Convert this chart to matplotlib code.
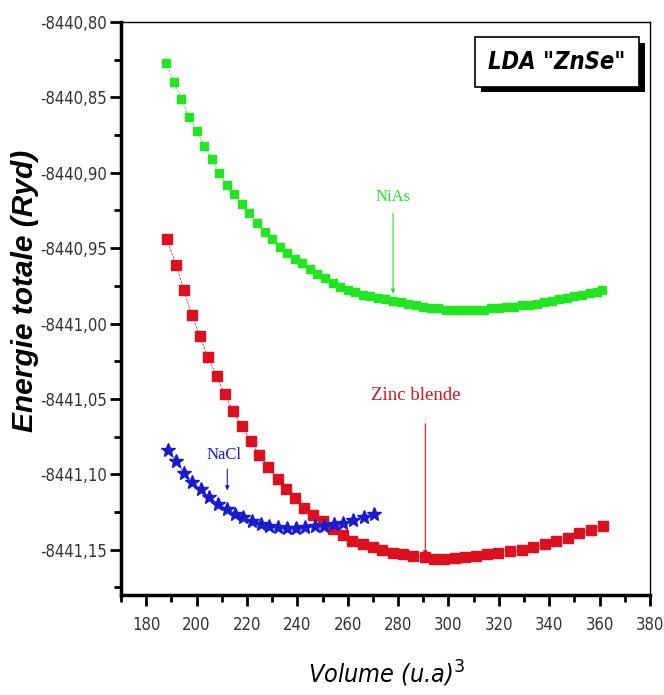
import matplotlib.pyplot as plt
from matplotlib import font_manager
from matplotlib.patches import Rectangle
from matplotlib.ticker import MultipleLocator

# police etroite si dispo
narrow = {'family': 'Liberation Sans'}
for f in font_manager.fontManager.ttflist:
    if 'Narrow' in f.name and 'Liberation' in f.name:
        narrow = {'family': f.name}
        break
else:
    for f in font_manager.fontManager.ttflist:
        if f.name in ('DejaVu Sans', 'Roboto', 'Open Sans', 'Noto Sans') and f.stretch in ('condensed', 'semi-condensed'):
            narrow = {'family': f.name, 'stretch': f.stretch}
            break

# NiAs (vert)
vol_nias = [188, 191, 194, 197, 200, 203, 206, 209, 212, 215, 218, 221, 224, 227, 230,
            233, 236, 239, 242, 245, 248, 251, 254, 257, 260, 263, 266, 269, 272, 275,
            278, 281, 284, 287, 290, 293, 296, 299, 302, 305, 308, 311, 314, 317, 320,
            323, 326, 329, 332, 335, 338, 341, 344, 347, 350, 353, 356, 359, 361]
e_nias = [-8440.827, -8440.840, -8440.851, -8440.863, -8440.872, -8440.882, -8440.891,
          -8440.900, -8440.908, -8440.914, -8440.921, -8440.927, -8440.933, -8440.939,
          -8440.944, -8440.949, -8440.953, -8440.957, -8440.960, -8440.964, -8440.967,
          -8440.970, -8440.973, -8440.976, -8440.978, -8440.979, -8440.981, -8440.982,
          -8440.983, -8440.984, -8440.985, -8440.986, -8440.987, -8440.988, -8440.989,
          -8440.990, -8440.990, -8440.991, -8440.991, -8440.991, -8440.991, -8440.991,
          -8440.991, -8440.990, -8440.990, -8440.989, -8440.989, -8440.988, -8440.988,
          -8440.987, -8440.986, -8440.985, -8440.984, -8440.983, -8440.982, -8440.981,
          -8440.980, -8440.979, -8440.978]

# Zinc blende (rouge)
vol_zb = [188.1, 191.9, 195.0, 198.0, 201.2, 204.4, 208.1, 211.1, 214.6, 217.9, 221.6,
          224.8, 228.5, 232.2, 235.4, 239.0, 242.7, 246.4, 250.0, 254.0, 258.0, 261.9,
          265.9, 269.9, 273.8, 277.8, 281.8, 285.8, 290.5, 294.4, 298.3, 302.6, 306.7,
          310.9, 315.3, 319.6, 324.6, 329.1, 333.5, 338.4, 342.7, 347.4, 352.0, 356.7, 361.3]
e_zb = [-8440.944, -8440.961, -8440.978, -8440.994, -8441.008, -8441.022, -8441.035,
        -8441.047, -8441.058, -8441.068, -8441.078, -8441.087, -8441.095, -8441.103,
        -8441.110, -8441.116, -8441.122, -8441.127, -8441.131, -8441.136, -8441.140,
        -8441.144, -8441.146, -8441.148, -8441.150, -8441.152, -8441.153, -8441.154,
        -8441.155, -8441.156, -8441.156, -8441.1555, -8441.155, -8441.154, -8441.153,
        -8441.152, -8441.151, -8441.150, -8441.148, -8441.146, -8441.144, -8441.142,
        -8441.139, -8441.137, -8441.134]

# NaCl (bleu)
vol_nacl = [188.6, 192.0, 195.0, 198.3, 201.6, 205.0, 208.5, 211.9, 215.2, 218.6, 221.9,
            225.4, 228.8, 232.3, 235.8, 239.6, 242.9, 246.9, 250.4, 254.4, 258.3, 262.3,
            266.3, 270.3]
e_nacl = [-8441.084, -8441.091, -8441.099, -8441.105, -8441.110, -8441.115, -8441.1195,
          -8441.123, -8441.126, -8441.1285, -8441.131, -8441.133, -8441.134, -8441.135,
          -8441.1355, -8441.1355, -8441.135, -8441.1345, -8441.134, -8441.133, -8441.132,
          -8441.130, -8441.1285, -8441.1265]

xticks = [180, 200, 220, 240, 260, 280, 300, 320, 340, 360, 380]
yticks = [-8441.15, -8441.10, -8441.05, -8441.00, -8440.95, -8440.90, -8440.85, -8440.80]
ylabels = ['-8441,15', '-8441,10', '-8441,05', '-8441,00', '-8440,95', '-8440,90',
           '-8440,85', '-8440,80']

green = '#22e622'
red = '#dd1020'
blue = '#1a1ad0'

fig = plt.figure(figsize=(6.64, 6.95), dpi=100)
ax = fig.add_axes([0.1822, 0.1439, 0.7967, 0.8245])

ax.plot(vol_nias, e_nias, color=green, lw=0.5, ls='--', marker='s', ms=6, mec=green, mfc=green)
ax.plot(vol_zb, e_zb, color='#b02030', lw=0.5, ls='--', marker='s', ms=6.5, mec=red, mfc=red)
ax.plot(vol_nacl, e_nacl, color=blue, lw=0.6, marker='*', ms=10, mec=blue, mfc=blue)

ax.set_xlim(170, 380)
ax.set_ylim(-8441.18, -8440.80)
ax.set_xticks(xticks)
ax.set_xticklabels([str(t) for t in xticks], fontsize=12, color='#333333', **narrow)
ax.set_yticks(yticks)
ax.set_yticklabels(ylabels, fontsize=12, color='#333333', **narrow)
ax.xaxis.set_minor_locator(MultipleLocator(10))
ax.yaxis.set_minor_locator(MultipleLocator(0.025))
ax.tick_params(which='major', direction='out', length=8, width=2, top=False, right=False)
ax.tick_params(which='minor', direction='out', length=5, width=2, top=False, right=False)
ax.tick_params(axis='x', pad=7)
ax.tick_params(axis='y', pad=2)

ax.spines['left'].set_linewidth(2.5)
ax.spines['bottom'].set_linewidth(2.5)
ax.spines['top'].set_linewidth(1)
ax.spines['right'].set_linewidth(1)

fig.text(25 / 664, 1 - 291 / 695, 'Energie totale (Ryd)', rotation=90, fontsize=21.5,
         fontweight='bold', style='italic', family='Liberation Sans', ha='center', va='center')
fig.text(387 / 664, 1 - 674 / 695, 'Volume (u.a)$^3$', fontsize=18, style='italic',
         ha='center', va='center', **narrow)

# annotations
ax.annotate('', xy=(278, -8440.982), xytext=(278, -8440.925),
            arrowprops=dict(arrowstyle='-|>', color=green, lw=0.8, mutation_scale=6))
ax.text(278, -8440.9164, 'NiAs', color=green, fontsize=12, family='Liberation Serif',
        ha='center', va='center')

ax.annotate('', xy=(290.8, -8441.1555), xytext=(290.8, -8441.0646),
            arrowprops=dict(arrowstyle='-|>', color=red, lw=0.8, mutation_scale=6))
ax.text(287, -8441.048, 'Zinc blende', color=red, fontsize=13.5, family='Liberation Serif',
        ha='center', va='center')

ax.annotate('', xy=(212.2, -8441.1125), xytext=(212.2, -8441.0946),
            arrowprops=dict(arrowstyle='-|>', color=blue, lw=0.8, mutation_scale=6))
ax.text(210.8, -8441.0874, 'NaCl', color=blue, fontsize=12, family='Liberation Serif',
        ha='center', va='center')

# boite titre avec ombre
ax.add_patch(Rectangle((0.680, 0.877), 0.310, 0.087, transform=ax.transAxes,
                       fc='black', ec='none', clip_on=False, zorder=5))
ax.add_patch(Rectangle((0.669, 0.887), 0.310, 0.087, transform=ax.transAxes,
                       fc='white', ec='black', lw=1.2, clip_on=False, zorder=6))
ax.text(0.824, 0.930, 'LDA "ZnSe"', transform=ax.transAxes, fontsize=17,
        fontweight='bold', style='italic', ha='center', va='center', zorder=7, **narrow)

fig.savefig('out.png', dpi=100)
